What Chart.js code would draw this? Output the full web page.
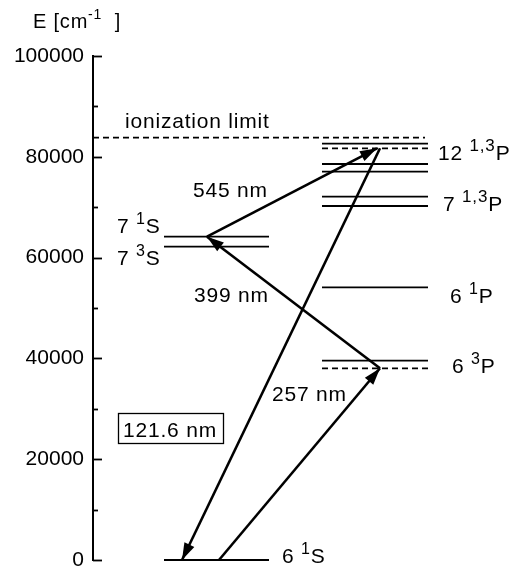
<!DOCTYPE html>
<html><head><meta charset="utf-8">
<script src="https://cdn.jsdelivr.net/npm/chart.js@4.4.1/dist/chart.umd.min.js"></script>
<style>html,body{margin:0;padding:0;background:#fff;}#wrap{width:517px;height:571px;position:relative;}</style>
</head><body><div id="wrap"><canvas id="c"></canvas></div>
<script>
// ---- data (energies in cm^-1) ----
const yMin = 0, yMax = 100000, yStep = 10000, yLabelStep = 20000;
const sLevelNames = ['6 1S', '7 3S', '7 1S'];
const sLevels = [0, 62160, 64150];
const pLevelNames = ['6 3P', '6 1P', '7 3P', '7 1P', '12 P', '12 P', '12 P'];
const pLevels = [39540, 54110, 70240, 72080, 77040, 78570, 82600];
const virtualLevelNames = ['6 3P virtual', '12 P virtual'];
const virtualLevels = [38040, 81690];
const ionizationLimit = 83800;
const transitionLabels = ['257 nm', '399 nm', '545 nm', '121.6 nm'];
const transitionFrom = [0, 38040, 64150, 81690];
const transitionTo = [38040, 64150, 81690, 0];

// ---- layout (horizontal positions in abstract x units 0..100) ----
const sCol = [17.75, 44];
const pCol = [57.25, 83.75];
const ionCol = [0, 83];
const transX = [[31.5, 71.75], [71.75, 28.5], [28.5, 71], [71.75, 22.25]];

const datasets = [];
const lvl = (y, col, dash) => ({
  data: [{x: col[0], y: y}, {x: col[1], y: y}],
  showLine: true, pointRadius: 0, borderColor: '#000', borderWidth: 1.8,
  borderDash: dash ? [6, 4] : [], clip: false, kind: 'level'
});
sLevels.forEach(v => datasets.push(lvl(v, sCol, false)));
pLevels.forEach(v => datasets.push(lvl(v, pCol, false)));
virtualLevels.forEach(v => datasets.push(lvl(v, pCol, true)));
datasets.push(lvl(ionizationLimit, ionCol, true));
transitionLabels.forEach((t, i) => datasets.push({
  label: t,
  data: [{x: transX[i][0], y: transitionFrom[i]}, {x: transX[i][1], y: transitionTo[i]}],
  showLine: true, pointRadius: 0, borderColor: '#000', borderWidth: 2.6,
  clip: false, kind: 'arrow'
}));

const FONT = '"Liberation Sans", Arial, Helvetica, sans-serif';
// text annotations: x in x-units, y = baseline in energy units
const texts = [
  {x: 8, y: 85714, parts: [['ionization limit']]},
  {x: 25, y: 72024, parts: [['545 nm']]},
  {x: 25.25, y: 51190, parts: [['399 nm']]},
  {x: 44.75, y: 31548, parts: [['257 nm']]},
  {x: 7.5, y: 24405, parts: [['121.6 nm']], box: [6.25, 29167, 32.5, 23214]},
  {x: 6, y: 64881, parts: [['7 '], ['1', 1], ['S']]},
  {x: 6, y: 58532, parts: [['7 '], ['3', 1], ['S']]},
  {x: 47.25, y: -595, parts: [['6 '], ['1', 1], ['S']]},
  {x: 86.25, y: 79365, parts: [['12 '], ['1,3', 1, 17], ['P']]},
  {x: 87.5, y: 69246, parts: [['7 '], ['1,3', 1, 17], ['P']]},
  {x: 89.25, y: 50992, parts: [['6 '], ['1', 1], ['P']]},
  {x: 89.75, y: 37103, parts: [['6 '], ['3', 1], ['P']]},
  {x: -15, y: 105556, parts: [['E [cm'], ['-1', 1, 14], ['  ]']], size: 20}
];

function drawRich(ctx, x, y, parts, size) {
  let cx = x;
  parts.forEach(p => {
    const sup = !!p[1];
    const fs = sup ? (p[2] || 16) : size;
    ctx.font = fs + 'px ' + FONT;
    const yy = sup ? y - 9 : y;
    ctx.fillText(p[0], cx, yy);
    cx += ctx.measureText(p[0]).width;
  });
}

const overlay = {
  id: 'overlay',
  afterDatasetsDraw(chart) {
    const ctx = chart.ctx, xs = chart.scales.x, ys = chart.scales.y;
    ctx.save();
    // inward ticks
    ctx.strokeStyle = '#000'; ctx.lineWidth = 1.8;
    ys.ticks.forEach(t => {
      const py = Math.round(ys.getPixelForValue(t.value)) + 0.5;
      const len = (t.value % yLabelStep === 0) ? 9 : 5;
      ctx.beginPath(); ctx.moveTo(ys.right, py); ctx.lineTo(ys.right + len, py); ctx.stroke();
    });
    // arrowheads
    ctx.fillStyle = '#000';
    chart.data.datasets.forEach((ds, i) => {
      if (ds.kind !== 'arrow') return;
      const m = chart.getDatasetMeta(i);
      const a = m.data[0], b = m.data[1];
      const ang = Math.atan2(b.y - a.y, b.x - a.x);
      const L = 17, W = 5.5;
      ctx.beginPath();
      ctx.moveTo(b.x, b.y);
      ctx.lineTo(b.x - L * Math.cos(ang) + W * Math.sin(ang), b.y - L * Math.sin(ang) - W * Math.cos(ang));
      ctx.lineTo(b.x - L * Math.cos(ang) - W * Math.sin(ang), b.y - L * Math.sin(ang) + W * Math.cos(ang));
      ctx.closePath(); ctx.fill();
    });
    // texts
    ctx.textBaseline = 'alphabetic'; ctx.textAlign = 'left';
    try { ctx.letterSpacing = '0.8px'; } catch (e) {}
    texts.forEach(t => {
      const px = xs.getPixelForValue(t.x), py = ys.getPixelForValue(t.y);
      drawRich(ctx, px, py, t.parts, t.size || 21);
      if (t.box) {
        const x0 = xs.getPixelForValue(t.box[0]), y0 = ys.getPixelForValue(t.box[1]);
        const x1 = xs.getPixelForValue(t.box[2]), y1 = ys.getPixelForValue(t.box[3]);
        ctx.lineWidth = 1.3;
        ctx.strokeRect(Math.round(x0) + 0.5, Math.round(y0) + 0.5, Math.round(x1 - x0), Math.round(y1 - y0));
      }
    });
    ctx.restore();
  }
};

Chart.defaults.font.family = FONT;
Chart.defaults.color = '#000';
new Chart(document.getElementById('c'), {
  type: 'scatter',
  data: {datasets},
  options: {
    responsive: true, maintainAspectRatio: false, animation: false,
    layout: {padding: {left: 0, top: 56, right: 24, bottom: 11}},
    plugins: {legend: {display: false}, tooltip: {enabled: false}},
    elements: {line: {tension: 0}},
    scales: {
      x: {type: 'linear', min: 0, max: 100, display: false},
      y: {
        type: 'linear', min: yMin, max: yMax,
        grid: {display: false, drawTicks: false},
        border: {display: true, color: '#000', width: 2},
        ticks: {
          stepSize: yStep, autoSkip: false, padding: 9, color: '#000',
          font: {size: 21, family: FONT},
          callback: v => (v % yLabelStep === 0 ? String(v) : '')
        },
        afterFit(s) { s.width = 93; s.paddingTop = 0; s.paddingBottom = 0; }
      }
    }
  },
  plugins: [overlay]
});
</script></body></html>
